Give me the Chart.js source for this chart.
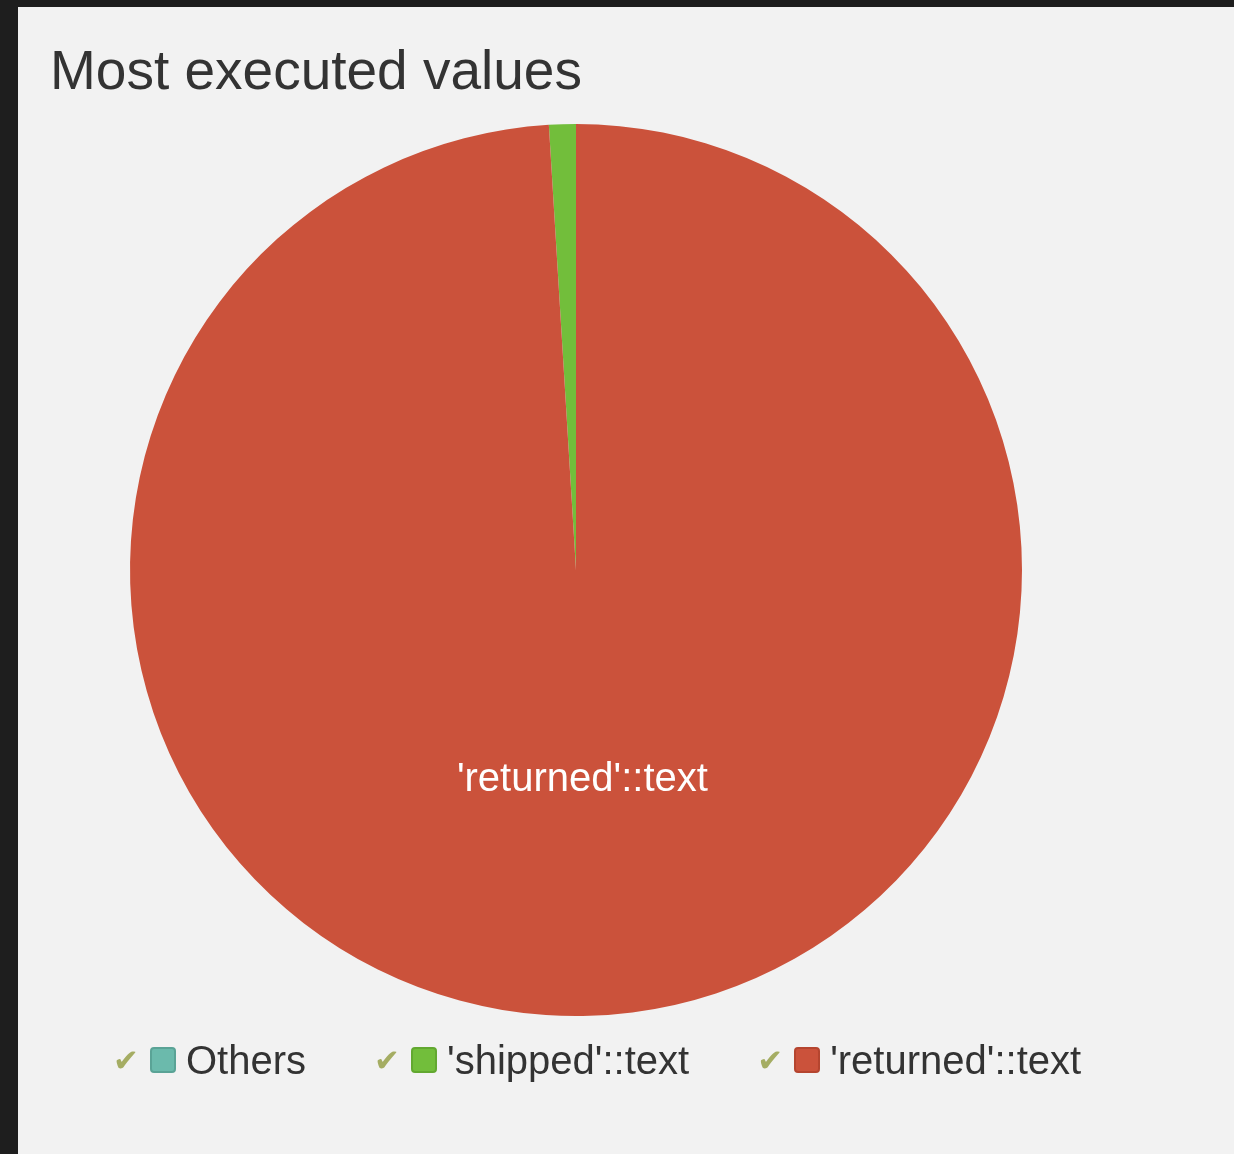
<!DOCTYPE html>
<html>
<head>
<meta charset="utf-8">
<title>Most executed values</title>
<script src="https://cdn.jsdelivr.net/npm/chart.js@4.4.1/dist/chart.umd.min.js"></script>
<style>
  html, body { margin: 0; padding: 0; width: 1234px; height: 1154px; overflow: hidden; background: #1e1e1e; }
  #panel { position: absolute; left: 18px; top: 7px; width: 1216px; height: 1147px; background: #f2f2f2; }
  #chart { position: absolute; left: 0; top: 0; }
  #legend {
    position: absolute; left: 95px; top: 1030px;
    display: flex; align-items: center;
    font-family: "Liberation Sans", Arial, sans-serif; font-size: 40px; color: #333;
    line-height: 46px; white-space: nowrap;
  }
  .item { display: flex; align-items: center; margin-right: 68px; }
  .check { display: inline-block; width: 24px; font-family: "DejaVu Sans", sans-serif; font-size: 31px; color: #a5ad63; text-align: center; }
  .swatch { display: inline-block; width: 22px; height: 22px; border-radius: 4px; border: 2px solid; margin: 0 10px 0 13px; }
</style>
</head>
<body>
<div id="panel">
  <canvas id="chart" width="1216" height="1147"></canvas>
  <div id="legend"></div>
</div>
<script>
// Query values and their share of executions (percent)
const categories = ["Others", "'shipped'::text", "'returned'::text"];
const shares = [0, 0.97, 99.03];

const sliceColors = ['#6bbaac', '#72be3b', '#cb523b'];
const swatchBorders = ['#5aa396', '#62a830', '#b5452f'];

const total = shares.reduce((a, b) => a + b, 0);

// White category name inside any slice large enough to hold it
const sliceLabels = {
  id: 'sliceLabels',
  afterDatasetsDraw(chart) {
    const { ctx } = chart;
    const meta = chart.getDatasetMeta(0);
    ctx.save();
    ctx.fillStyle = '#ffffff';
    ctx.font = '40px "Liberation Sans", Arial, sans-serif';
    ctx.textAlign = 'center';
    ctx.textBaseline = 'middle';
    meta.data.forEach((arc, i) => {
      if (shares[i] / total < 0.1) return;
      const p = arc.getProps(['x', 'y', 'startAngle', 'endAngle', 'outerRadius'], true);
      const mid = (p.startAngle + p.endAngle) / 2;
      const d = p.outerRadius * 0.47;
      ctx.fillText(categories[i], p.x + Math.cos(mid) * d, p.y + Math.sin(mid) * d);
    });
    ctx.restore();
  }
};

const chart = new Chart(document.getElementById('chart'), {
  type: 'pie',
  data: {
    labels: categories,
    datasets: [{
      data: shares,
      backgroundColor: sliceColors,
      borderWidth: 0,
      hoverOffset: 0
    }]
  },
  options: {
    responsive: false,
    animation: false,
    events: [],
    // slices run anticlockwise from twelve o'clock, ending with the largest
    rotation: -360 * (shares[0] + shares[1]) / total,
    layout: { padding: { left: 32, right: 132, top: 0, bottom: 138 } },
    plugins: {
      legend: { display: false },
      tooltip: { enabled: false },
      title: {
        display: true,
        text: 'Most executed values',
        align: 'start',
        color: '#333333',
        font: { family: '"Liberation Sans", Arial, sans-serif', size: 55, weight: 'normal', lineHeight: 1.2 },
        padding: { top: 34, bottom: 17 }
      }
    }
  },
  plugins: [sliceLabels]
});

// Legend built from the chart's own labels and colours
const legend = document.getElementById('legend');
chart.data.labels.forEach((label, i) => {
  const item = document.createElement('div');
  item.className = 'item';
  const check = document.createElement('span');
  check.className = 'check';
  check.textContent = '\u2714';
  const sw = document.createElement('span');
  sw.className = 'swatch';
  sw.style.background = sliceColors[i];
  sw.style.borderColor = swatchBorders[i];
  const text = document.createElement('span');
  text.textContent = label;
  item.append(check, sw, text);
  legend.appendChild(item);
});
</script>
</body>
</html>
